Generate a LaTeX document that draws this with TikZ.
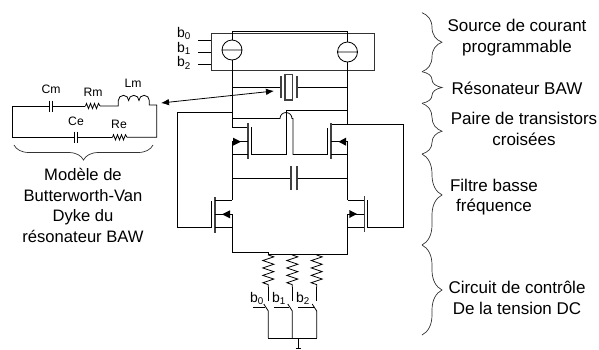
\documentclass[tikz,border=0pt]{standalone}
\usepackage{fontspec}
\setmainfont{Liberation Sans}
\usetikzlibrary{arrows.meta,decorations.pathreplacing,decorations.pathmorphing}
\tikzset{
    wire/.style={line width=0.8pt, black, line join=miter},
    plate/.style={line width=1.1pt, black!75},
    bigtext/.style={font=\fontsize{16.6}{20.6}\selectfont, align=center, inner sep=0pt},
    sidetext/.style={font=\fontsize{17}{20.8}\selectfont, align=center, inner sep=0pt},
    smalltext/.style={font=\fontsize{12.2}{14}\selectfont, inner sep=0pt},
    bittext/.style={font=\fontsize{14}{16}\selectfont, inner sep=0pt},
    brace/.style={line width=0.7pt, black!80, decorate, decoration={brace, amplitude=20pt}},
    lowres/.style={decorate, decoration={zigzag, segment length=7.4pt, amplitude=5.5pt, pre length=0.5pt, post length=0.5pt}},
    tinyres/.style={decorate, decoration={zigzag, segment length=4pt, amplitude=2.6pt, pre length=0.5pt, post length=0.5pt}},
}
\begin{document}
\begin{tikzpicture}[x=1pt, y=-1pt]
    \useasboundingbox (0, 0) rectangle (599, 349);

    % current source
    \draw[wire, black!80] (211, 33) rectangle (374, 70);
    \draw[wire] (232, 40) -- (232, 31) -- (347.5, 31) -- (347.5, 42);
    \draw[wire] (232, 50) circle (10) (222, 50) -- (242, 50);
    \draw[wire] (347.5, 52) circle (10) (337.5, 52) -- (357.5, 52);
    \draw[wire] (198, 40) -- (211, 40) (198, 52) -- (211, 52) (198, 64) -- (211, 64);
    \node[bittext] (bita) at (184, 33.5) {b\textsubscript{0}};
    \node[bittext] (bitb) at (184, 48.5) {b\textsubscript{1}};
    \node[bittext] (bitc) at (184, 63) {b\textsubscript{2}};

    % main rails
    \draw[wire] (232, 60) -- (232, 127) -- (248, 127);
    \draw[wire] (347.5, 62) -- (347.5, 124);

    % BAW resonator
    \draw[wire] (232, 87) -- (281, 87);
    \draw[wire] (297, 87) -- (347.5, 87);
    \draw[plate] (281, 76) -- (281, 98);
    \draw[plate] (297, 76) -- (297, 98);
    \draw[plate] (285, 74.5) rectangle (292.5, 100);
    \coordinate (arrowres) at (274, 91);
    \coordinate (arrowbvd) at (161, 103);
    \draw[wire, {Latex[length=8pt,width=6.5pt]}-{Latex[length=8pt,width=6.5pt]}] (arrowbvd) -- (arrowres);

    % cross coupled pair
    \draw[wire] (177, 227.7) -- (177, 112) -- (232, 112);
    \draw[wire] (232, 118.5) -- (280, 118.5) arc (180:360:6) -- (293, 118.5) -- (293, 154.5) -- (327.7, 154.5);
    \draw[wire] (251.5, 127) -- (251.5, 154.5) -- (286, 154.5) -- (286, 110) -- (347.5, 110);
    \draw[plate] (248, 123) -- (248, 159);
    \draw[wire] (248, 141.7) -- (232, 141.7) -- (232, 200);
    \draw[wire] (232, 154.5) -- (248, 154.5);
    \fill (233, 137.7) -- (241, 141.7) -- (233, 145.7) -- cycle;

    \draw[wire] (347.5, 124) -- (331, 124);
    \draw[wire] (347.5, 124) -- (403, 124) -- (403, 227.5) -- (367.7, 227.5) -- (367.7, 200);
    \draw[wire] (327.7, 154.5) -- (327.7, 128);
    \draw[plate] (331, 123) -- (331, 159);
    \draw[wire] (331, 141.7) -- (347.5, 141.7) -- (347.5, 200);
    \draw[wire] (331, 154.5) -- (347.5, 154.5);
    \fill (346, 137.7) -- (338.5, 141.7) -- (346, 145.7) -- cycle;

    % low frequency filter
    \draw[wire] (232, 178) -- (291, 178);
    \draw[wire] (297, 178) -- (347.5, 178);
    \draw[plate] (291, 166) -- (291, 190);
    \draw[plate] (297, 166) -- (297, 190);

    \draw[wire] (177, 227.7) -- (211.5, 227.7) -- (211.5, 201);
    \draw[plate] (215, 197) -- (215, 233);
    \draw[wire] (215, 200.5) -- (232, 200.5);
    \draw[wire] (215, 214.3) -- (232, 214.3) -- (232, 252.5) -- (268.3, 252.5) -- (268.3, 254.5) -- (347.5, 254.5) -- (347.5, 214);
    \draw[wire] (215, 227.7) -- (232, 227.7);
    \fill (230, 210.3) -- (222, 214.3) -- (230, 218.3) -- cycle;

    \draw[plate] (364.3, 196) -- (364.3, 232);
    \draw[wire] (347.5, 200.5) -- (364.3, 200.5);
    \draw[wire] (347.5, 214) -- (364.3, 214);
    \draw[wire] (347.5, 227.5) -- (364.3, 227.5);
    \fill (349.3, 210) -- (357, 214) -- (349.3, 218) -- cycle;

    % DC control
    \foreach \x/\stub in {268.3/253, 292.3/274, 316.7/298} {
        \draw[wire, lowres] (\x, 254.5) -- (\x, 287);
        \draw[wire] (\x, 287) -- (\x, 301);
        \draw[wire] (\x-4.5, 304) -- (\x, 311) -- (\x, 338);
        \draw[wire] (\stub, 307.7) -- (\x-3, 307.7);
    }
    \draw[wire] (268.3, 338) -- (316.7, 338);
    \draw[wire] (298.3, 338) -- (298.3, 348) (295.5, 348) -- (301, 348);
    \node[bittext] (swa) at (257, 298.5) {b\textsubscript{0}};
    \node[bittext] (swb) at (279, 298.5) {b\textsubscript{1}};
    \node[bittext] (swc) at (303, 298.5) {b\textsubscript{2}};

    % Butterworth-Van Dyke model
    \draw[wire] (49, 106) -- (12.7, 106) -- (12.7, 137.3) -- (74, 137.3);
    \draw[wire] (52.3, 106) -- (85, 106);
    \draw[wire, tinyres] (85, 106) -- (100, 106);
    \draw[wire] (100, 106) -- (118.3, 106) -- (118.3, 100.5) arc (180:360:5.17) arc (180:360:5.17) arc (180:360:5.17) -- (149.3, 105) -- (156.7, 105) -- (156.7, 137.3) -- (127, 137.3);
    \draw[wire, tinyres] (112, 137.3) -- (127, 137.3);
    \draw[wire] (77.7, 137.3) -- (112, 137.3);
    \draw[wire] (49, 100.5) -- (49, 112) (52.3, 100.5) -- (52.3, 112);
    \draw[wire] (74, 131.5) -- (74, 143) (77.7, 131.5) -- (77.7, 143);
    \node[smalltext] (labelcm) at (51, 89) {Cm};
    \node[smalltext] (labelrm) at (93, 92) {Rm};
    \node[smalltext] (labellm) at (133, 83.5) {Lm};
    \node[smalltext] (labelce) at (76, 121.5) {Ce};
    \node[smalltext] (labelre) at (119, 124) {Re};
    \draw[brace, decoration={mirror, amplitude=15pt}] (14, 145) -- (153, 145);
    \node[bigtext] (labelmodel) at (83, 205.5) {Modèle de\\Butterworth-Van\\Dyke du\\résonateur BAW};

    % blocks on the right
    \draw[brace] (422, 12.7) -- (422, 71.7);
    \draw[brace] (422, 71.7) -- (422, 103.3);
    \draw[brace, decoration={aspect=0.55}] (422, 103.3) -- (422, 154);
    \draw[brace, decoration={aspect=0.45}] (422, 154) -- (422, 245);
    \draw[brace] (422, 245) -- (422, 335);
    \node[sidetext] (labelsource) at (517, 37.5) {Source de courant\\programmable};
    \node[sidetext] (labelbaw) at (517, 88) {Résonateur BAW};
    \node[sidetext] (labelpair) at (524, 129) {Paire de transistors\\croisées};
    \node[sidetext] (labelfilter) at (494, 197) {Filtre basse\\fréquence};
    \node[sidetext] (labelctrl) at (517, 297.5) {Circuit de contrôle\\De la tension DC};
\end{tikzpicture}
\end{document}
